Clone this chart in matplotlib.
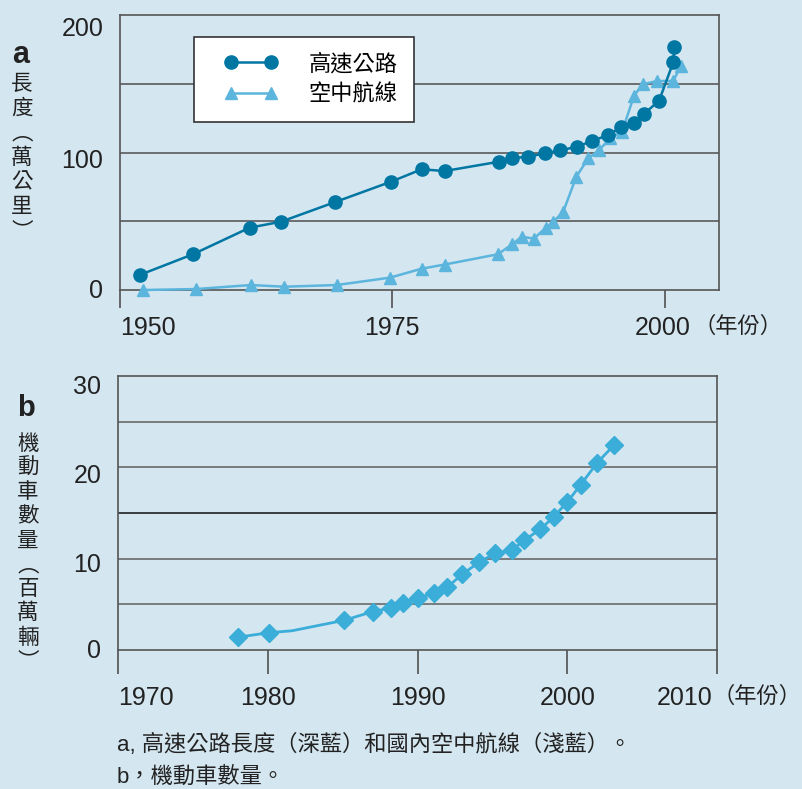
import matplotlib.pyplot as plt
import matplotlib.transforms as mtransforms
from matplotlib.legend_handler import HandlerLine2D

plt.rcParams['font.family'] = ['Liberation Sans', 'Noto Sans CJK TC']

# a: 高速公路長度 / 國內空中航線 (萬公里)
hw_year = [1951.8, 1956.7, 1961.9, 1964.8, 1969.7, 1974.9, 1977.7, 1979.8, 1984.8, 1986.0, 1987.5,
           1989.0, 1990.4, 1992.0, 1993.3, 1994.8, 1996.0, 1997.2, 1998.1, 1999.5, 2000.8, 2000.9]
hw_len = [10.9, 26.0, 45.3, 49.7, 63.8, 78.8, 87.8, 86.5, 93.3, 95.8, 97.0,
          99.4, 101.6, 104.2, 108.4, 112.5, 118.3, 121.5, 128.0, 137.7, 165.6, 177.0]

air_year = [1952.1, 1957.0, 1962.0, 1965.1, 1969.9, 1974.8, 1977.7, 1979.8, 1984.7, 1986.0, 1986.9,
            1988.0, 1989.1, 1989.8, 1990.7, 1991.9, 1993.0, 1994.0, 1995.0, 1996.1, 1997.2, 1998.0,
            1999.3, 2000.8, 2001.5]
air_len = [0.0, 0.7, 3.6, 2.4, 3.6, 9.0, 15.5, 18.5, 26.0, 33.2, 38.8,
           37.3, 45.3, 49.7, 57.0, 82.4, 95.8, 101.8, 110.3, 115.1, 141.3, 149.6,
           152.0, 152.0, 163.1]

# b: 機動車數量 (百萬輛)
car_year = [1978.0, 1980.1, 1981.6, 1985.1, 1987.0, 1988.2, 1989.0, 1990.0, 1991.1, 1992.0, 1993.0,
            1994.1, 1995.2, 1996.3, 1997.1, 1998.2, 1999.1, 2000.0, 2000.9, 2002.0, 2003.1]
car_num = [1.4, 1.9, 2.1, 3.25, 4.2, 4.6, 5.1, 5.7, 6.2, 6.9, 8.3,
           9.6, 10.6, 10.9, 12.0, 13.2, 14.6, 16.2, 18.1, 20.5, 22.4]
car_nomark = [2]

xt_a = [1950, 1975, 2000]
yt_a = [0, 100, 200]
grid_a = [50, 100, 150]
xt_b = [1970, 1980, 1990, 2000, 2010]
yt_b = [0, 10, 20, 30]
grid_b = [5, 10, 15, 20, 25]

bg = '#d4e6f0'
dark = '#0076a3'
light = '#5cb5dd'
carc = '#3aadd8'
W, H = 803, 789

fig = plt.figure(figsize=(W / 100, H / 100), dpi=100)
fig.patch.set_facecolor(bg)

def box(l, t, r, b):
    return [l / W, 1 - b / H, (r - l) / W, (b - t) / H]

def nudge(lab, dx, dy):
    # shift a tick label by pixels (dx right, dy down)
    lab.set_transform(lab.get_transform() +
                      mtransforms.ScaledTranslation(dx / 100, -dy / 100, fig.dpi_scale_trans))

ax1 = fig.add_axes(box(120, 15, 719, 290))
ax2 = fig.add_axes(box(118, 376, 717, 650))

for ax in (ax1, ax2):
    ax.set_facecolor(bg)
    for s in ax.spines.values():
        s.set_color('#555555')
        s.set_linewidth(1.2)
    ax.tick_params(axis='y', length=0, pad=12, labelsize=18, labelcolor='#222222')
    ax.tick_params(axis='x', direction='out', color='#444444', width=1.1, labelsize=18,
                   labelcolor='#222222')

# panel a
for g in grid_a:
    ax1.axhline(g, color='#5a5a5a', lw=1.2, zorder=1)
l1, = ax1.plot(hw_year, hw_len, '-o', color=dark, lw=1.8, ms=9.5, zorder=4, clip_on=False,
               label='高速公路')
l2, = ax1.plot(air_year, air_len, '-^', color=light, lw=1.8, ms=9, zorder=3, clip_on=False,
               label='空中航線')
ax1.set_xlim(1950, 2005)
ax1.set_ylim(0, 200)
ax1.set_xticks(xt_a)
ax1.set_yticks(yt_a)
ax1.tick_params(axis='x', length=13, pad=6)
ax1.get_xticklabels()[0].set_horizontalalignment('left')

leg = ax1.legend(handles=[l1, l2], loc='upper left', bbox_to_anchor=(194 / W, 1 - 37 / H),
                 bbox_transform=fig.transFigure, borderaxespad=0, fontsize=16,
                 fancybox=False, edgecolor='#333333', facecolor='white', framealpha=1,
                 handlelength=3.6, handletextpad=0.8, labelspacing=0.42, borderpad=0.75,
                 handler_map={l1: HandlerLine2D(marker_pad=0.9, numpoints=2),
                              l2: HandlerLine2D(marker_pad=0.9, numpoints=2)})
leg.get_frame().set_linewidth(1.2)
leg.set_zorder(10)

# panel b
for g in grid_b:
    ax2.axhline(g, color='#222222' if g == 15 else '#6a6a6a', lw=1.2, zorder=1)
marks = [i for i in range(len(car_year)) if i not in car_nomark]
ax2.plot(car_year, car_num, '-D', color=carc, lw=2, ms=9, markevery=marks, zorder=3,
         clip_on=False)
ax2.set_xlim(1970, 2010)
ax2.set_ylim(0, 30)
ax2.set_xticks(xt_b)
ax2.set_yticks(yt_b)
ax2.tick_params(axis='x', length=17, pad=9)
xl = ax2.get_xticklabels()
xl[0].set_horizontalalignment('left')
xl[-1].set_horizontalalignment('right')
nudge(xl[-1], -5, 0)
nudge(ax1.get_xticklabels()[-1], -2, 0)

# y tick labels sit a little below their gridlines in the original
for ax, shifts in ((ax1, [-2, 6, 12]), (ax2, [-2, 4, 6, 9])):
    for lab, dy in zip(ax.get_yticklabels(), shifts):
        nudge(lab, 0, dy)

# labels
def ft(x, y, s, **kw):
    fig.text(x / W, 1 - y / H, s, **kw)

ft(21, 55, 'a', fontsize=22, fontweight='bold', ha='center', va='center', color='#222222')
ft(26, 408, 'b', fontsize=21, fontweight='bold', ha='center', va='center', color='#222222')
ft(22, 74, '\n'.join('長度︵萬公里︶'), fontsize=15.5, ha='center', va='top', linespacing=1.22,
   color='#222222')
ft(28, 434, '\n'.join('機動車數量︵百萬輛︶'), fontsize=15.5, ha='center', va='top', linespacing=1.2,
   color='#222222')
ft(694, 327, '（年份）', fontsize=16, ha='left', va='center', color='#222222')
ft(713, 697, '（年份）', fontsize=16, ha='left', va='center', color='#222222')
ft(117, 745, 'a, 高速公路長度（深藍）和國內空中航線（淺藍）。', fontsize=16, ha='left', va='center',
   color='#222222')
ft(117, 777, 'b，機動車數量。', fontsize=16, ha='left', va='center', color='#222222')

fig.savefig('out.png', dpi=100, facecolor=bg)
